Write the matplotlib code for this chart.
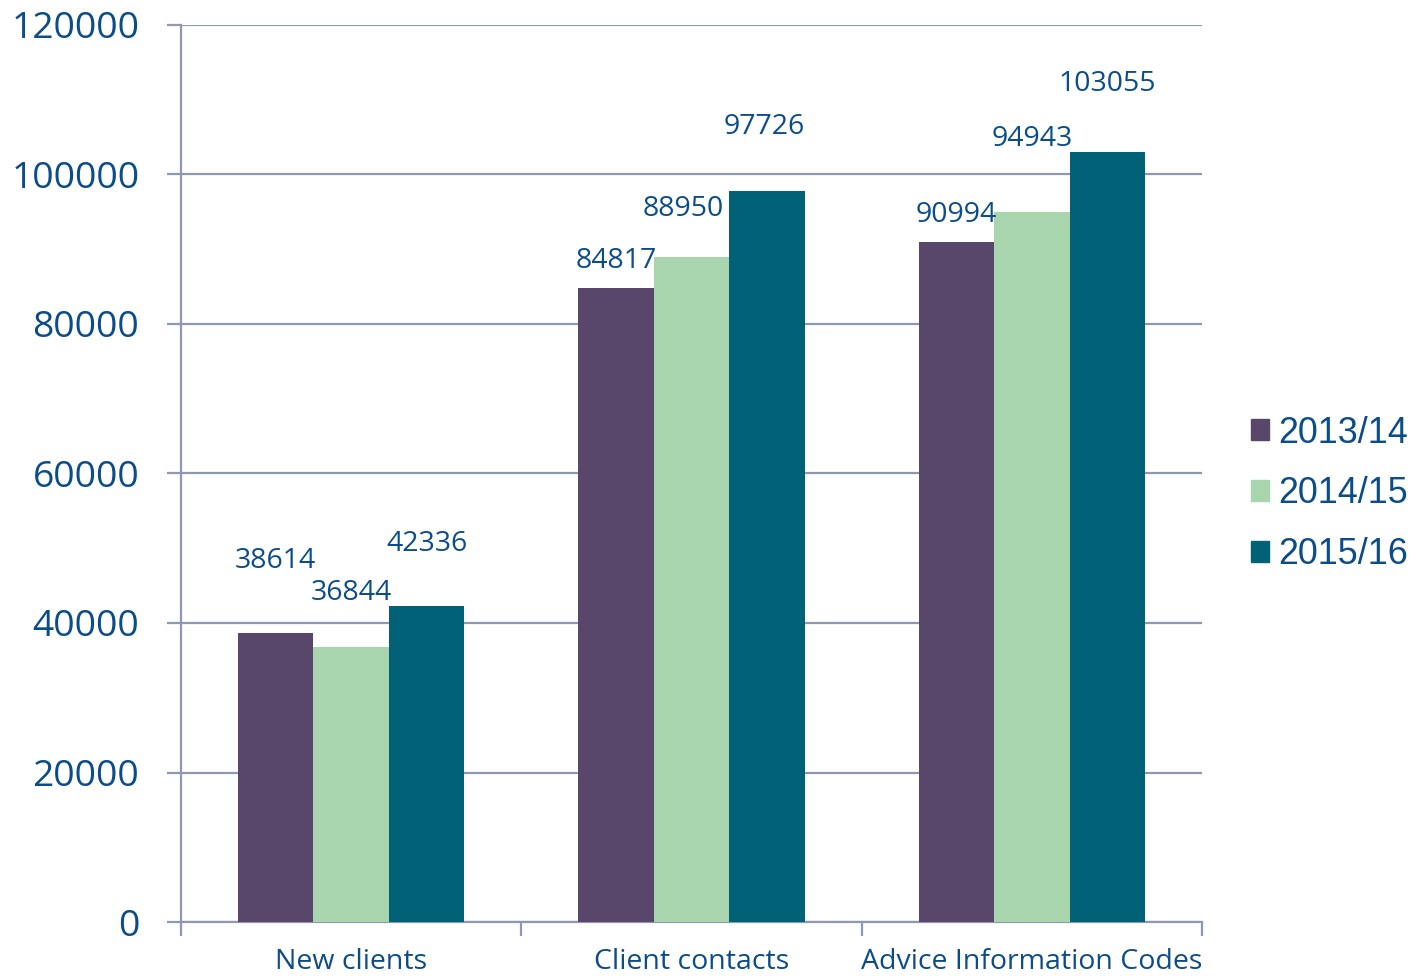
import numpy as np
import matplotlib.pyplot as plt
from matplotlib.patches import Patch

categories = ["New clients", "Client contacts", "Advice Information Codes"]
years = ["2013/14", "2014/15", "2015/16"]
v1314 = [38614, 84817, 90994]
v1415 = [36844, 88950, 94943]
v1516 = [42336, 97726, 103055]

colors = ["#59476B", "#A8D5AE", "#006177"]
txt = "#0B4C8A"
grid_c = "#8E99B0"

# label positions, as set by hand in the original (y offset in data units, x offset in category units)
lab_dy = [[9700, 3600, 3600], [7200, 6450, 9800], [8250, 8650, 9050]]
lab_dx = [[0, 0, 0], [0, -0.024, 0], [0, -0.007, 0]]

fig = plt.figure(figsize=(14.17, 9.76), dpi=100)
ax = fig.add_axes([181/1417, 54/976, 1021/1417, 897/976])

x = np.arange(len(categories))
w = 0.222
series = [v1314, v1415, v1516]
for i, vals in enumerate(series):
    xs = x + (i - 1) * w
    ax.bar(xs, vals, width=w, color=colors[i], zorder=3)
    for j, v in enumerate(vals):
        ax.text(xs[j] + lab_dx[i][j], v + lab_dy[i][j], str(v), ha="center", va="center",
                fontsize=20.5, color=txt, family="Open Sans", zorder=4)

ax.set_xlim(-0.5, 2.5)
ax.set_ylim(0, 120000)
ax.set_yticks(np.arange(0, 120001, 20000))
ax.set_yticklabels([str(t) for t in range(0, 120001, 20000)], family="Open Sans",
                   fontsize=26.8, color=txt)
ax.yaxis.grid(True, color=grid_c, lw=1.6, zorder=0)
ax.tick_params(axis="y", length=10, width=1.6, color=grid_c, pad=20)

ax.set_xticks([-0.5, 0.5, 1.5, 2.5])
ax.set_xticklabels([])
ax.set_xticks(x, minor=True)
ax.set_xticklabels(categories, minor=True, family="Open Sans", fontsize=20.5, color=txt)
ax.tick_params(axis="x", which="major", length=10, width=1.6, color=grid_c)
ax.tick_params(axis="x", which="minor", length=0, pad=19)

for s in ["top", "right"]:
    ax.spines[s].set_visible(False)
for s in ["left", "bottom"]:
    ax.spines[s].set_color(grid_c)
    ax.spines[s].set_linewidth(1.6)

handles = [Patch(color=c) for c in colors]
leg = fig.legend(handles, years, loc="center right", bbox_to_anchor=(1408/1417, 0.494),
                 frameon=False, borderpad=0, borderaxespad=0, handlelength=0.52,
                 handleheight=0.52, handletextpad=0.25, labelspacing=0.72,
                 prop={"family": "Liberation Sans", "size": 25.8})
for t in leg.get_texts():
    t.set_color(txt)

fig.savefig("out.png", dpi=100)
